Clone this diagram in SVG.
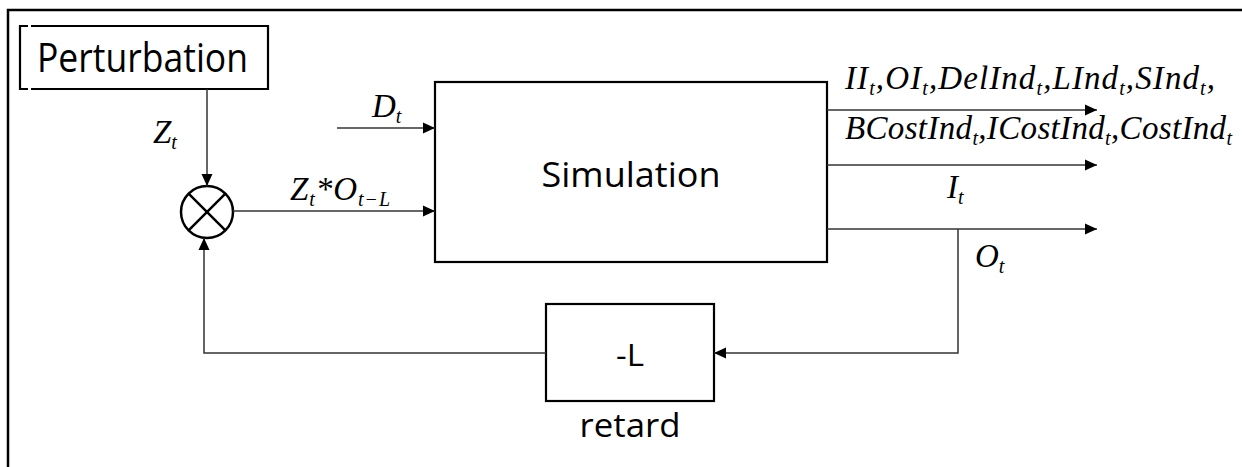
<svg xmlns="http://www.w3.org/2000/svg" width="1242" height="467" viewBox="0 0 1242 467">
<defs>
<marker id="arr" markerUnits="userSpaceOnUse" markerWidth="12" markerHeight="12" viewBox="0 0 12 12" refX="12" refY="6" orient="auto">
<path d="M0,0.5 L12,6 L0,11.5 Z" fill="#000"/>
</marker>
<style>
.box{fill:#fff;stroke:#000;stroke-width:2.2}
.ln{fill:none;stroke:#333;stroke-width:1.5}
.lbl{font-family:"Open Sans","Noto Sans",sans-serif;fill:#000}
.m{font-family:"Liberation Serif","Times New Roman",serif;font-style:italic;font-size:33px;fill:#000}
.s{font-size:20px}
</style>
</defs>
<rect width="1242" height="467" fill="#fff"/>
<path d="M8,467 V10 H1242" fill="none" stroke="#000" stroke-width="2.5"/>

<g id="perturbation">
<path d="M28,26 H20 V89 H28 M31,26 H268 V89 H31" class="box"/>
<text x="37" y="72" class="lbl" font-size="41" textLength="211" lengthAdjust="spacingAndGlyphs">Perturbation</text>
</g>

<g id="multiplier">
<circle cx="207" cy="212" r="26" fill="#fff" stroke="#000" stroke-width="2.5"/>
<path d="M188.6,193.6 L225.4,230.4 M225.4,193.6 L188.6,230.4" stroke="#000" stroke-width="2.5"/>
</g>

<g id="simulation">
<rect x="435" y="82" width="392" height="180" class="box"/>
<text x="631" y="187" class="lbl" font-size="35" text-anchor="middle" textLength="179" lengthAdjust="spacingAndGlyphs">Simulation</text>
</g>

<g id="retard">
<rect x="546" y="304" width="168" height="97" class="box"/>
<text x="630" y="366" class="lbl" font-size="31" text-anchor="middle" textLength="28" lengthAdjust="spacingAndGlyphs">-L</text>
<text x="630" y="437" class="lbl" font-size="32" text-anchor="middle" textLength="101" lengthAdjust="spacingAndGlyphs">retard</text>
</g>

<g id="connectors">
<line x1="207" y1="89" x2="207" y2="186" class="ln" marker-end="url(#arr)"/>
<line x1="337" y1="128" x2="435" y2="128" class="ln" marker-end="url(#arr)"/>
<line x1="233" y1="211" x2="435" y2="211" class="ln" marker-end="url(#arr)"/>
<line x1="827" y1="110" x2="1097" y2="110" class="ln" marker-end="url(#arr)"/>
<line x1="827" y1="165" x2="1097" y2="165" class="ln" marker-end="url(#arr)"/>
<line x1="827" y1="229" x2="1097" y2="229" class="ln" marker-end="url(#arr)"/>
<polyline points="958,229 958,353 714,353" class="ln" marker-end="url(#arr)"/>
<polyline points="546,353 204,353 204,238" class="ln" marker-end="url(#arr)"/>
</g>

<g id="labels">
<text x="153" y="143" class="m">Z<tspan class="s" dy="6">t</tspan></text>
<text x="372" y="117" class="m">D<tspan class="s" dy="6">t</tspan></text>
<text x="290" y="200" class="m" textLength="100">Z<tspan class="s" dy="6">t</tspan><tspan dy="-6">*</tspan>O<tspan class="s" dy="6">t−L</tspan></text>
<text x="845" y="89" class="m" textLength="370">II<tspan class="s" dy="6">t</tspan><tspan dy="-6">,OI</tspan><tspan class="s" dy="6">t</tspan><tspan dy="-6">,DelInd</tspan><tspan class="s" dy="6">t</tspan><tspan dy="-6">,LInd</tspan><tspan class="s" dy="6">t</tspan><tspan dy="-6">,SInd</tspan><tspan class="s" dy="6">t</tspan><tspan dy="-6">,</tspan></text>
<text x="845" y="139" class="m" textLength="387">BCostInd<tspan class="s" dy="6">t</tspan><tspan dy="-6">,ICostInd</tspan><tspan class="s" dy="6">t</tspan><tspan dy="-6">,CostInd</tspan><tspan class="s" dy="6">t</tspan></text>
<text x="947" y="198" class="m">I<tspan class="s" dy="6">t</tspan></text>
<text x="975" y="267" class="m">O<tspan class="s" dy="6">t</tspan></text>
</g>
</svg>
